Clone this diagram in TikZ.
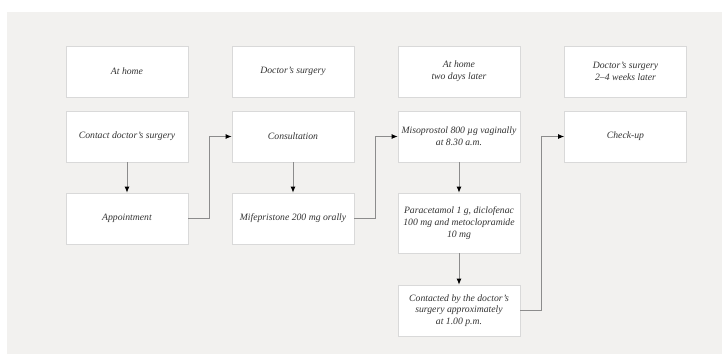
\documentclass[tikz,border=0pt]{standalone}
\usepackage{fontspec}
\setmainfont{Liberation Serif}
\usepackage{tikz}
\usetikzlibrary{arrows.meta,positioning}

\definecolor{panelgray}{HTML}{F2F1EF}
\definecolor{boxline}{HTML}{D9D9D9}
\definecolor{arrowgray}{HTML}{8C8C8C}
\definecolor{textgray}{HTML}{333333}

\tikzset{
    stagebox/.style={draw=boxline, fill=white, line width=0.8pt, minimum width=122pt,
        minimum height=51pt, align=center, inner sep=2pt, text=textgray,
        font=\fontsize{9.7}{11.8}\selectfont\itshape},
    flowarrow/.style={draw=arrowgray, line width=0.8pt, -{Latex[length=6pt,width=5pt,color=black]}}
}

\begin{document}
\begin{tikzpicture}[x=1pt, y=-1pt]
            % Draw the panel
            \useasboundingbox (0,0) rectangle (722,354);
            \fill[panelgray] (7,12) rectangle (722,354);

            % Draw the headers
            \node[stagebox] (home) at (127, 71.5) {At home};
            \node[stagebox] (surgery) at (293, 71.5) {Doctor's surgery};
            \node[stagebox] (later) at (459, 71.5) {At home\\two days later};
            \node[stagebox] (weeks) at (625.5, 71.5) {Doctor's surgery\\2--4 weeks later};

            % Draw the steps
            \node[stagebox] (contact) at (127, 136.5) {Contact doctor's surgery};
            \node[stagebox] (appointment) at (127, 218.5) {Appointment};

            \node[stagebox] (consult) at (293, 136.5) {Consultation};
            \node[stagebox] (mife) at (293, 218.5) {Mifepristone 200 mg orally};

            \node[stagebox] (miso) at (459, 136.5) {Misoprostol 800 µg vaginally\\at 8.30 a.m.};
            \node[stagebox, minimum height=60pt] (para) at (459, 223) {Paracetamol 1 g, diclofenac\\100 mg and metoclopramide\\10 mg};
            \node[stagebox] (contacted) at (459, 310.5) {Contacted by the doctor's\\surgery approximately\\at 1.00 p.m.};

            \node[stagebox] (checkup) at (625.5, 136.5) {Check-up};

            % Draw the arrows
            \draw[flowarrow] (contact) -- (appointment);
            \draw[flowarrow] (appointment.east) -- ++(20.5,0) |- (consult.west);
            \draw[flowarrow] (consult) -- (mife);
            \draw[flowarrow] (mife.east) -- ++(20.5,0) |- (miso.west);
            \draw[flowarrow] (miso) -- (para);
            \draw[flowarrow] (para) -- (contacted);
            \draw[flowarrow] (contacted.east) -- ++(21,0) |- (checkup.west);

        \end{tikzpicture}
\end{document}
